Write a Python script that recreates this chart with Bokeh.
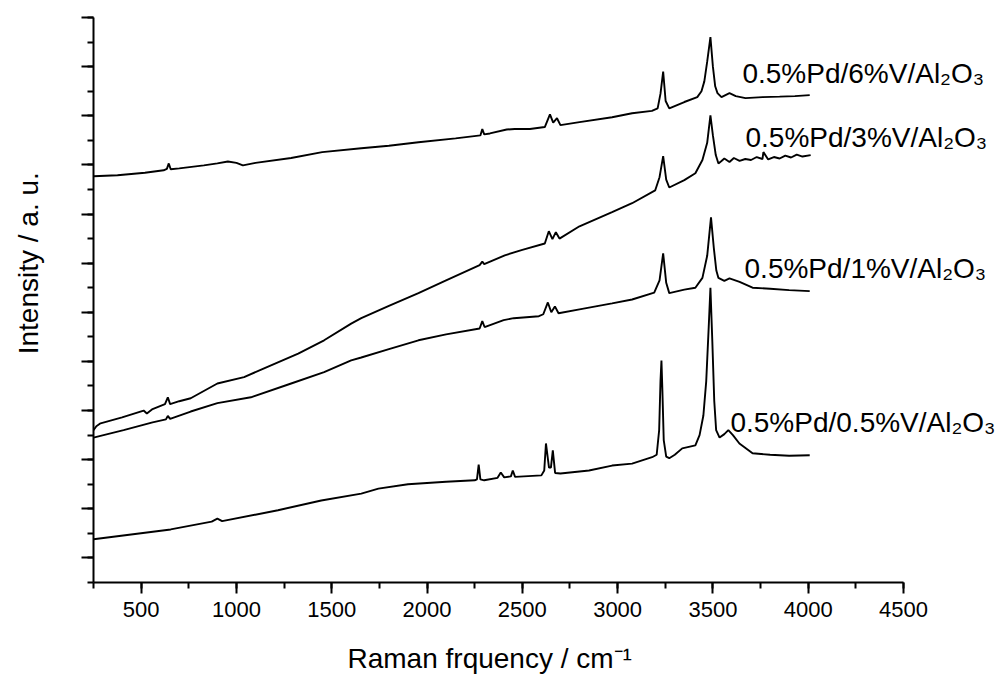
import math
from bokeh.plotting import figure
from bokeh.layouts import row, column
from bokeh.models import SingleIntervalTicker, Range1d, Label, ColumnDataSource, CustomJSTickFormatter
from bokeh.core.properties import value
from bokeh.embed import file_html
from bokeh.resources import INLINE

# ---- data ----
x_6v = [250, 376, 520, 618, 635, 645, 655, 700, 829, 900, 955, 1000, 1034, 1100, 1287, 1450, 1655, 1800,
        1955, 2150, 2280, 2290, 2300, 2330, 2418, 2460, 2540, 2618, 2645, 2662, 2682, 2700, 2800, 2971,
        3076, 3180, 3210, 3225, 3239, 3252, 3271, 3350, 3418, 3440, 3455, 3470, 3487, 3500, 3512, 3524,
        3545, 3587, 3620, 3671, 3760, 3850, 3930, 4008]
y_6v = [87.7, 87.9, 88.4, 88.9, 89.2, 90.3, 89.1, 89.3, 89.9, 90.3, 90.7, 90.4, 89.9, 90.4, 91.4, 92.6, 93.4, 93.9,
        94.6, 95.4, 96.0, 97.3, 96.2, 96.4, 97.2, 97.3, 97.3, 97.7, 100.3, 98.6, 99.5, 98.1, 98.7, 99.7,
        100.5, 101.0, 101.5, 104.5, 109.0, 103.0, 101.5, 102.8, 103.8, 105.0, 107.0, 111.0, 116.0, 110.0, 106.0, 104.6,
        103.8, 104.6, 104.0, 103.6, 103.8, 103.9, 104.0, 104.2]

x_3v = [250, 265, 287, 400, 513, 530, 560, 625, 640, 652, 700, 760, 900, 1040, 1145, 1324, 1460, 1602, 1655,
        1800, 1955, 2100, 2276, 2290, 2300, 2408, 2500, 2618, 2639, 2658, 2676, 2695, 2800, 2971, 3076, 3197,
        3220, 3239, 3255, 3271, 3350, 3408, 3445, 3470, 3487, 3500, 3515, 3529, 3545, 3560, 3587, 3610, 3640,
        3670, 3700, 3730, 3760, 3765, 3790, 3820, 3850, 3880, 3910, 3940, 3970, 4013]
y_3v = [36.0, 36.8, 37.4, 38.6, 40.0, 39.4, 40.3, 41.3, 42.7, 41.3, 41.9, 42.5, 45.5, 46.8, 48.6, 51.6, 54.3, 57.7, 58.8,
        61.3, 63.9, 66.5, 69.6, 70.3, 69.8, 71.6, 72.7, 74.0, 76.5, 74.9, 76.3, 75.0, 77.5, 80.4, 82.2, 84.8,
        87.5, 91.8, 87.0, 85.4, 86.9, 88.3, 91.0, 94.5, 100.1, 96.0, 92.0, 90.3, 90.8, 91.3, 90.6, 91.4, 90.8,
        91.2, 91.0, 91.6, 91.2, 92.6, 91.1, 91.6, 91.3, 91.9, 91.5, 92.1, 91.7, 92.0]

x_1v = [250, 408, 560, 630, 640, 652, 760, 900, 1076, 1287, 1460, 1602, 1655, 1800, 1955, 2100, 2276, 2290, 2302,
        2402, 2455, 2587, 2610, 2634, 2652, 2671, 2690, 2800, 2971, 3076, 3192, 3220, 3239, 3255, 3271, 3350,
        3408, 3445, 3470, 3490, 3505, 3518, 3529, 3560, 3587, 3640, 3708, 3800, 3900, 4008]
y_1v = [34.5, 36.0, 37.6, 38.2, 38.9, 38.3, 39.8, 41.5, 42.7, 45.5, 47.8, 50.2, 50.8, 52.5, 54.3, 55.5, 56.7, 58.2, 57.0,
        58.4, 58.8, 59.2, 59.6, 62.0, 60.0, 61.2, 59.8, 60.6, 61.8, 62.6, 64.0, 66.5, 72.0, 66.0, 63.9, 64.6,
        65.0, 67.0, 71.5, 79.3, 73.0, 68.5, 67.0, 66.4, 66.9, 66.2, 65.0, 64.8, 64.5, 64.3]

x_05v = [250, 655, 870, 900, 925, 1218, 1445, 1655, 1745, 1900, 2100, 2250, 2262, 2271, 2280, 2300, 2370, 2387,
         2405, 2440, 2450, 2462, 2600, 2615, 2624, 2640, 2650, 2660, 2672, 2700, 2850, 2971, 3076, 3181, 3205,
         3218, 3225, 3230, 3235, 3242, 3255, 3271, 3300, 3339, 3408, 3430, 3450, 3465, 3478, 3487, 3497, 3507,
         3517, 3535, 3560, 3581, 3605, 3639, 3708, 3800, 3900, 4008]
y_05v = [13.8, 15.8, 17.4, 18.0, 17.5, 19.7, 21.7, 23.1, 24.1, 25.0, 25.5, 25.8, 26.0, 29.0, 26.0, 25.8, 26.3, 27.4,
         26.4, 26.6, 27.8, 26.5, 26.8, 27.8, 33.3, 28.4, 28.4, 31.9, 27.3, 27.2, 27.8, 28.8, 29.2, 30.5, 31.0,
         36.0, 46.0, 50.2, 44.0, 34.0, 30.6, 30.3, 31.0, 32.3, 32.9, 35.0, 39.0, 46.0, 57.0, 65.0, 54.0, 42.0,
         36.0, 34.5, 35.2, 36.0, 35.0, 33.3, 31.3, 31.0, 30.8, 30.9]

series_x = [x_6v, x_3v, x_1v, x_05v]
series_y = [y_6v, y_3v, y_1v, y_05v]
series_names = ["0.5%Pd/6%V/Al\u2082O\u2083", "0.5%Pd/3%V/Al\u2082O\u2083",
                "0.5%Pd/1%V/Al\u2082O\u2083", "0.5%Pd/0.5%V/Al\u2082O\u2083"]
label_x = [3655, 3671, 3666, 3592]
label_y = [108.7, 95.6, 69.0, 37.6]

X_AXIS_START, X_AXIS_END = 250, 4500
X_TITLE = "Raman frquency / cm\u207b\u00b9"
Y_TITLE = "Intensity / a. u."
FONT = "Liberation Sans"


def blank(fig):
    fig.outline_line_color = None
    fig.background_fill_color = "white"
    fig.border_fill_color = "white"
    for g in fig.grid:
        g.visible = False


# ---- main plot: frame runs to the right edge, the x axis is bounded at 250..4500 ----
p = figure(width=950, height=630, x_range=Range1d(250, 5009), y_range=Range1d(5, 120),
           output_backend="svg", toolbar_location=None,
           min_border_left=43, min_border_right=0, min_border_top=17, min_border_bottom=48)
blank(p)

for xs, ys in zip(series_x, series_y):
    src = ColumnDataSource(dict(x=xs, y=ys))
    p.line("x", "y", source=src, line_color="black", line_width=1.9)

for name, lx, ly in zip(series_names, label_x, label_y):
    p.add_layout(Label(x=lx, y=ly, text=name, text_font=FONT, text_font_size="28px",
                       text_color="black", text_baseline="alphabetic", text_align="left"))

xa = p.xaxis[0]
xa.bounds = (X_AXIS_START, X_AXIS_END)
xa.ticker = SingleIntervalTicker(interval=500, num_minor_ticks=2)
xa.axis_line_width = 2
xa.major_tick_line_width = 2
xa.minor_tick_line_width = 2
xa.major_tick_out = 11
xa.major_tick_in = 0
xa.minor_tick_out = 6
xa.minor_tick_in = 0
xa.major_label_text_font = FONT
xa.major_label_text_font_size = "22px"
xa.major_label_text_color = "black"
xa.major_label_standoff = 8

ya = p.yaxis[0]
ya.ticker = SingleIntervalTicker(interval=10, num_minor_ticks=2)
ya.axis_line_width = 2
ya.major_tick_line_width = 2
ya.minor_tick_line_width = 2
ya.major_tick_out = 12
ya.major_tick_in = 0
ya.minor_tick_out = 6
ya.minor_tick_in = 0
ya.major_label_standoff = 0
ya.formatter = CustomJSTickFormatter(code="return ''")

# ---- y-axis title strip (left) ----
ylab = figure(width=50, height=630, x_range=Range1d(0, 50), y_range=Range1d(0, 630),
              x_axis_type=None, y_axis_type=None, output_backend="svg", toolbar_location=None,
              min_border=0)
blank(ylab)
ylab.text(x=[28], y=[356], text=[Y_TITLE], angle=math.pi / 2, text_align="center",
          text_baseline="middle", text_font=value(FONT), text_font_size="28px", text_color="black")

# ---- x-axis title strip (bottom) ----
xlab = figure(width=1000, height=45, x_range=Range1d(0, 1000), y_range=Range1d(0, 45),
              x_axis_type=None, y_axis_type=None, output_backend="svg", toolbar_location=None,
              min_border=0)
blank(xlab)
xlab.text(x=[347], y=[17], text=[X_TITLE], text_align="left", text_baseline="alphabetic",
          text_font=value(FONT), text_font_size="28px", text_color="black")

layout = column(row(ylab, p, spacing=0), xlab, spacing=0)

open("out.html", "w").write(file_html(layout, INLINE))
